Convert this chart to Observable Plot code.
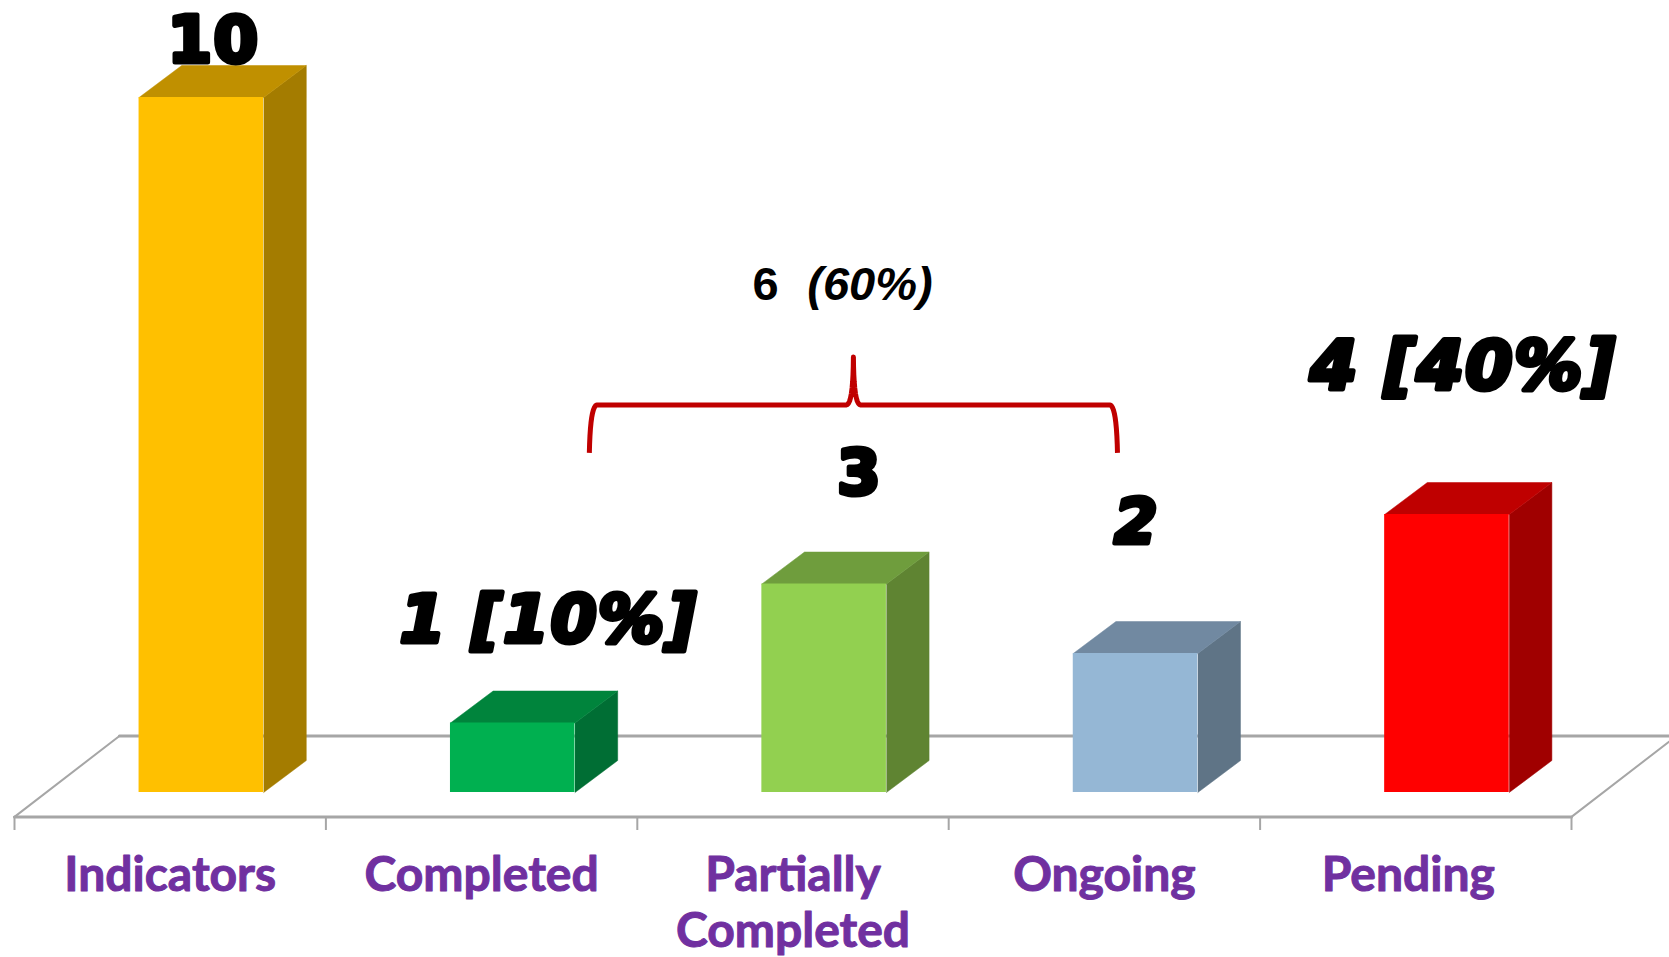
<!DOCTYPE html>
<html>
<head>
<meta charset="utf-8">
<script src="https://cdn.jsdelivr.net/npm/d3@7"></script>
<script src="https://cdn.jsdelivr.net/npm/@observablehq/plot@0.6"></script>
<style>
  html, body { margin: 0; padding: 0; background: #fff; overflow: hidden; }
  svg { display: block; overflow: hidden; }
  /* Wider setting for the heavy count labels */
  g[font-family="DejaVu Sans"] text { letter-spacing: 1.5px; }
</style>
</head>
<body>
<div id="chart"></div>
<script>
// Indicator status counts
const categories = ["Indicators", "Completed", "Partially\nCompleted", "Ongoing", "Pending"];
const counts = [10, 1, 3, 2, 4];
const countLabels = ["10", "1 [10%]", "3", "2", "4 [40%]"];
const frontColors = ["#FFC000", "#00B050", "#92D050", "#95B7D5", "#FF0000"];
const topColors = ["#C09000", "#00843C", "#6F9D3D", "#7189A1", "#BF0000"];
const sideColors = ["#A47C00", "#006E34", "#5F8432", "#5F7486", "#A00000"];

// Layout in chart units: one x unit is a category, one y unit is one indicator
const barStart = 0.4, barEnd = 0.8;
const depthX = 0.137, depthY = 0.46;
const floorFront = -0.351, floorBack = 0.813, floorDepthX = 0.337, tickEnd = -0.547;
const countLabelX = [0.639, 1.715, 2.714, 3.603, 4.652];
const countLabelLift = [0.8, 1.47, 1.58, 1.87, 2.115];
const countLabelSize = [64, 66, 62, 62, 68];
const uprightLabels = [0, 2];

const faces = [];
counts.forEach((v, i) => {
  const a = i + barStart, b = i + barEnd;
  faces.push(
    ...[[b, 0], [b + depthX, depthY], [b + depthX, v + depthY], [b, v]]
      .map(([x, y]) => ({id: `side${i}`, x, y, color: sideColors[i]})),
    ...[[a, v], [a + depthX, v + depthY], [b + depthX, v + depthY], [b, v]]
      .map(([x, y]) => ({id: `top${i}`, x, y, color: topColors[i]}))
  );
});
const fronts = counts.map((v, i) => ({x1: i + barStart, x2: i + barEnd, y: v, color: frontColors[i]}));

// Curly brace over the partially completed and ongoing bars, sampled from quadratic segments
const quad = (p0, c, p1) => d3.range(0, 1.001, 0.1).map(t => ({
  x: (1 - t) ** 2 * p0[0] + 2 * t * (1 - t) * c[0] + t * t * p1[0],
  y: (1 - t) ** 2 * p0[1] + 2 * t * (1 - t) * c[1] + t * t * p1[1]
}));
const bL = 1.846, bR = 3.542, bM = 2.694, bBase = 5.576, bFoot = 4.886, bTip = 6.265;
const brace = [
  ...quad([bL, bFoot], [bL + 0.003, bBase - 0.02], [bL + 0.024, bBase]),
  ...quad([bM - 0.024, bBase], [bM - 0.001, bBase - 0.01], [bM, bTip]),
  ...quad([bM, bTip], [bM + 0.001, bBase - 0.01], [bM + 0.024, bBase]),
  ...quad([bR - 0.024, bBase], [bR - 0.003, bBase - 0.02], [bR, bFoot])
];

const countLabelOptions = {
  x: d => countLabelX[countLabels.indexOf(d)],
  y: d => counts[countLabels.indexOf(d)] + countLabelLift[countLabels.indexOf(d)],
  text: d => d,
  fill: "black",
  stroke: "black",
  strokeWidth: 5,
  strokeLinejoin: "round",
  fontFamily: "DejaVu Sans",
  fontWeight: 700,
  fontSize: d => countLabelSize[countLabels.indexOf(d)],
  lineAnchor: "middle"
};

const chart = Plot.plot({
  width: 1669,
  height: 957,
  margin: 0,
  x: {domain: [0, 5], range: [14, 1571], axis: null},
  y: {domain: [0, 10], range: [792, 97], axis: null},
  marks: [
    // Floor of the 3D plot area
    Plot.line([{x: 0, y: floorFront}, {x: 5, y: floorFront}], {x: "x", y: "y", stroke: "#A6A6A6", strokeWidth: 3}),
    Plot.line([{x: floorDepthX, y: floorBack}, {x: 5 + floorDepthX, y: floorBack}], {x: "x", y: "y", stroke: "#A6A6A6", strokeWidth: 3}),
    Plot.line([{x: 0, y: floorFront}, {x: floorDepthX, y: floorBack}], {x: "x", y: "y", stroke: "#A6A6A6", strokeWidth: 2}),
    Plot.line([{x: 5, y: floorFront}, {x: 5 + floorDepthX, y: floorBack}], {x: "x", y: "y", stroke: "#A6A6A6", strokeWidth: 2}),
    Plot.ruleX(d3.range(0, 6), {y1: floorFront, y2: tickEnd, stroke: "#A6A6A6", strokeWidth: 2}),

    // Bars: side and top faces, then the front
    Plot.line(faces, {x: "x", y: "y", z: "id", fill: "color", stroke: "color", strokeWidth: 0.5}),
    Plot.rectY(fronts, {x1: "x1", x2: "x2", y1: 0, y2: "y", fill: "color"}),

    // Category labels
    Plot.text(categories, {
      x: (d, i) => i + 0.5 - (d === "Pending" ? 0.024 : 0),
      y: -0.85,
      text: d => d,
      lineAnchor: "top",
      lineHeight: 1.16,
      fill: "#7030A0",
      stroke: "#7030A0",
      strokeWidth: 1,
      fontFamily: "Lato",
      fontWeight: 700,
      fontSize: 48
    }),

    // Count labels above the bars
    Plot.text(countLabels.filter((d, i) => uprightLabels.includes(i)), countLabelOptions),
    Plot.text(countLabels.filter((d, i) => !uprightLabels.includes(i)), {...countLabelOptions, fontStyle: "italic"}),

    // Brace and its total
    Plot.line(brace, {x: "x", y: "y", stroke: "#C00000", strokeWidth: 5, strokeLinecap: "butt", strokeLinejoin: "round"}),
    Plot.text(["6"], {x: 2.412, y: 7.30, text: d => d, fontFamily: "Liberation Sans", fontWeight: 700, fontSize: 47, fill: "black", lineAnchor: "middle"}),
    Plot.text(["(60%)"], {x: 2.747, y: 7.30, text: d => d, fontFamily: "Liberation Sans", fontWeight: 700, fontStyle: "italic", fontSize: 47, fill: "black", lineAnchor: "middle"})
  ]
});
document.getElementById("chart").append(chart);
</script>
</body>
</html>
